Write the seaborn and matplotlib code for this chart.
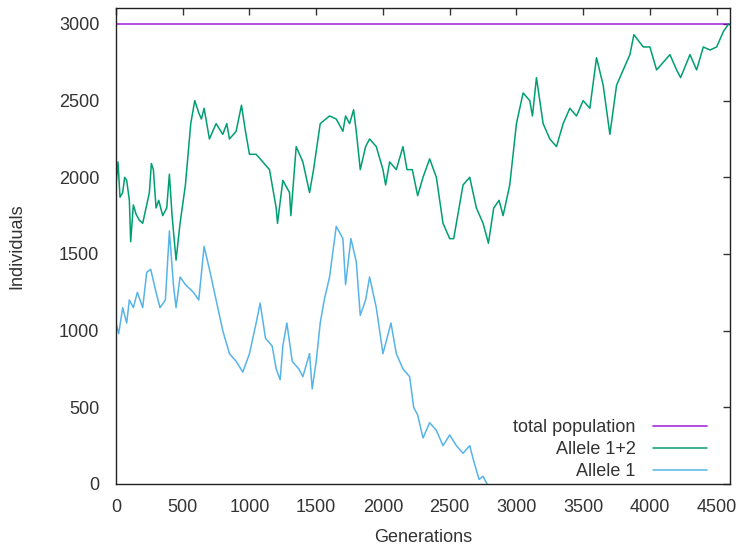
import matplotlib
matplotlib.use("Agg")

import matplotlib.pyplot as plt
import pandas as pd
import seaborn as sns

# values
gen_total = [0, 4590]
total_population = [3000, 3000]

gen_a12 = [0, 15, 30, 50, 65, 80, 100, 110, 130, 150, 175, 200, 225, 250, 265, 280, 300,
           320, 350, 380, 400, 420, 450, 480, 520, 560, 590, 620, 640, 660, 700, 750,
           800, 830, 850, 900, 940, 970, 1000, 1050, 1100, 1150, 1200, 1210, 1250, 1300,
           1310, 1350, 1400, 1450, 1480, 1530, 1600, 1650, 1700, 1720, 1750, 1780, 1800,
           1830, 1870, 1900, 1950, 2000, 2020, 2050, 2100, 2150, 2180, 2220, 2260, 2300,
           2350, 2400, 2450, 2500, 2530, 2570, 2600, 2650, 2700, 2750, 2790, 2830, 2870,
           2900, 2950, 3000, 3050, 3100, 3120, 3150, 3200, 3250, 3300, 3350, 3400, 3450,
           3500, 3550, 3600, 3650, 3700, 3750, 3800, 3850, 3880, 3950, 4000, 4050, 4100,
           4150, 4200, 4230, 4300, 4350, 4400, 4450, 4500, 4550, 4590]
allele_12 = [1950, 2100, 1870, 1900, 2000, 1980, 1850, 1580, 1820, 1760, 1720, 1700, 1800,
             1900, 2090, 2050, 1800, 1850, 1750, 1800, 2020, 1750, 1460, 1700, 1950, 2350,
             2500, 2420, 2380, 2450, 2250, 2350, 2280, 2350, 2250, 2300, 2470, 2300, 2150,
             2150, 2100, 2050, 1800, 1700, 1980, 1900, 1750, 2200, 2100, 1900, 2050, 2350,
             2400, 2380, 2300, 2400, 2350, 2440, 2300, 2050, 2200, 2250, 2200, 2050, 1950,
             2100, 2050, 2200, 2050, 2050, 1880, 2000, 2120, 2000, 1700, 1600, 1600, 1800,
             1950, 2000, 1800, 1700, 1570, 1800, 1850, 1750, 1950, 2350, 2550, 2500, 2400,
             2650, 2350, 2250, 2200, 2350, 2450, 2400, 2500, 2450, 2780, 2600, 2280, 2600,
             2700, 2800, 2930, 2850, 2850, 2700, 2750, 2800, 2700, 2650, 2800, 2700, 2850,
             2830, 2850, 2950, 3000]

gen_a1 = [0, 20, 50, 80, 100, 130, 160, 200, 230, 260, 300, 330, 370, 400, 430, 450, 480,
          520, 580, 620, 660, 700, 750, 800, 850, 900, 950, 1000, 1050, 1080, 1120, 1170,
          1200, 1230, 1250, 1280, 1320, 1370, 1400, 1450, 1470, 1500, 1530, 1560, 1600,
          1650, 1700, 1720, 1760, 1800, 1830, 1870, 1900, 1950, 2000, 2030, 2060, 2100,
          2150, 2200, 2230, 2260, 2300, 2350, 2400, 2450, 2500, 2550, 2600, 2650, 2680,
          2720, 2750, 2780]
allele_1 = [1050, 980, 1150, 1050, 1200, 1150, 1250, 1150, 1380, 1400, 1250, 1150, 1200,
            1650, 1300, 1150, 1350, 1300, 1250, 1200, 1550, 1400, 1200, 1000, 850, 800,
            730, 850, 1050, 1180, 950, 900, 750, 680, 900, 1050, 800, 750, 700, 850, 620,
            800, 1050, 1200, 1350, 1680, 1600, 1300, 1600, 1450, 1100, 1200, 1350, 1150,
            850, 950, 1050, 850, 750, 700, 500, 450, 300, 400, 350, 250, 320, 250, 200,
            250, 150, 30, 50, 0]

df_total = pd.DataFrame({"Generations": gen_total, "Individuals": total_population})
df_a12 = pd.DataFrame({"Generations": gen_a12, "Individuals": allele_12})
df_a1 = pd.DataFrame({"Generations": gen_a1, "Individuals": allele_1})

sns.set_style("white")
plt.rcParams["font.family"] = ["Liberation Sans", "DejaVu Sans"]
text_color = "#333333"

fig = plt.figure(figsize=(7.4, 5.48), dpi=100)
# plot box: x 116..730 px, y 8..484 px
ax = fig.add_axes([116 / 740, 1 - 484 / 548, 614 / 740, 476 / 548])

sns.lineplot(data=df_total, x="Generations", y="Individuals", ax=ax,
             color="#9400d3", lw=1.4, label="total population", alpha=0.7)
sns.lineplot(data=df_a12, x="Generations", y="Individuals", ax=ax,
             color="#009e73", lw=1.1, label="Allele 1+2")
sns.lineplot(data=df_a1, x="Generations", y="Individuals", ax=ax,
             color="#56b4e9", lw=1.1, label="Allele 1")

ax.set_xlim(0, 4600)
ax.set_ylim(0, 3104)
ax.set_xticks(range(0, 4501, 500))
ax.set_yticks(range(0, 3001, 500))
ax.tick_params(direction="in", length=5, width=1, top=True, right=True,
               labelsize=13, colors=text_color, pad=11)
ax.tick_params(axis="y", pad=12)
for s in ax.spines.values():
    s.set_color("#222222")
    s.set_linewidth(1)

ax.set_xlabel("Generations", fontsize=13, labelpad=9, color=text_color)
ax.set_ylabel("Individuals", fontsize=13, labelpad=24, color=text_color)

ax.legend(loc="lower right", bbox_to_anchor=(707 / 740, 1 - 480 / 548),
          bbox_transform=fig.transFigure, frameon=False, markerfirst=False,
          fontsize=13, handlelength=3.0, handletextpad=0.95, labelspacing=0.28,
          borderaxespad=0, borderpad=0, labelcolor=text_color)

fig.savefig("out.png", dpi=100)
